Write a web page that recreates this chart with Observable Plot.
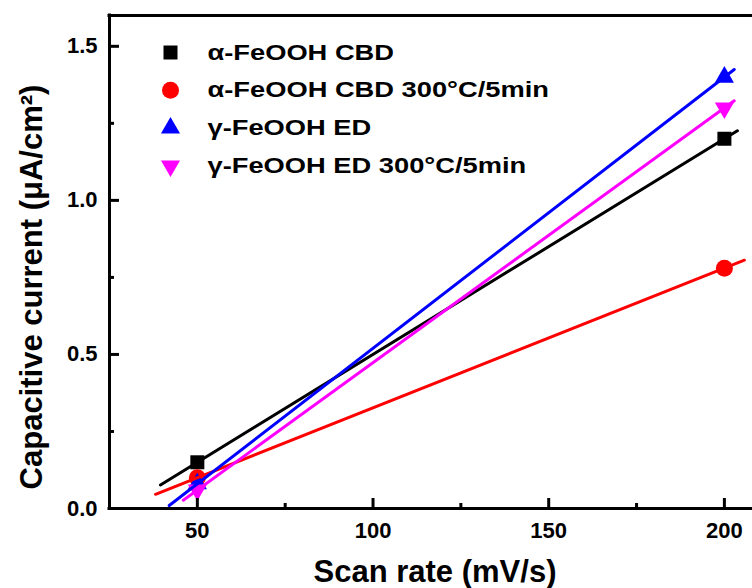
<!DOCTYPE html>
<html><head><meta charset="utf-8">
<script src="https://cdn.jsdelivr.net/npm/d3@7"></script>
<script src="https://cdn.jsdelivr.net/npm/@observablehq/plot@0.6"></script>
<style>
body{margin:0;background:#fff}
svg{display:block}
</style>
</head><body><div id="chart"></div>
<script>
// ---- data ----
const seriesNames = ["α-FeOOH CBD", "α-FeOOH CBD 300°C/5min", "γ-FeOOH ED", "γ-FeOOH ED 300°C/5min"];
const seriesColors = ["#000000", "#ff0000", "#0000ff", "#ff00ff"];
const seriesSymbols = ["square", "circle", "triangle", "triangle"];
const seriesRotate = [0, 0, 0, 180];
const scanRates = [50, 200];
const currentBlack = [0.15, 1.20];
const currentRed = [0.10, 0.78];
const currentBlue = [0.08, 1.40];
const currentMagenta = [0.06, 1.30];
const fitStart = [39.5, 38.1, 42.0, 46.0];
const fitEnd = [203.7, 205.7, 202.8, 202.8];
const xMajorTicks = [50, 100, 150, 200];
const xMinorTicks = [75, 125, 175];
const yMajorTicks = [0.0, 0.5, 1.0, 1.5];
const yMinorTicks = [0.25, 0.75, 1.25];
const xLabel = "Scan rate (mV/s)";
const yLabel = "Capacitive current (μA/cm²)";

// ---- build ----
const W = 752, H = 588, ML = 109, MT = 15, MB = 80, MR = 0;
const frameW = W - ML - MR, frameH = H - MT - MB;
const seriesValues = [currentBlack, currentRed, currentBlue, currentMagenta];
const symbolR = {square: 7.9, circle: 8.5, triangle: 7.1};

const points = [];
const fits = [];
seriesValues.forEach((vals, i) => {
  scanRates.forEach((x, j) => points.push({x, y: vals[j], s: i}));
  // least-squares linear fit
  const n = scanRates.length;
  const mx = d3.mean(scanRates), my = d3.mean(vals);
  let sxy = 0, sxx = 0;
  for (let j = 0; j < n; j++) { sxy += (scanRates[j]-mx)*(vals[j]-my); sxx += (scanRates[j]-mx)**2; }
  const b = sxy / sxx, a = my - b * mx;
  fits.push([{x: fitStart[i], y: a + b*fitStart[i], s: i}, {x: fitEnd[i], y: a + b*fitEnd[i], s: i}]);
});

const font = "'Liberation Sans', Arial, sans-serif";
const marks = [];

// data markers
seriesValues.forEach((_, i) => {
  marks.push(Plot.dot(points.filter(p => p.s === i), {
    x: "x", y: "y", symbol: seriesSymbols[i], r: symbolR[seriesSymbols[i]],
    fill: seriesColors[i], stroke: "none", rotate: seriesRotate[i]
  }));
});
// fit lines
fits.forEach((f, i) => {
  marks.push(Plot.line(f, {x: "x", y: "y", stroke: seriesColors[i], strokeWidth: 3}));
});

// frame lines
marks.push(Plot.ruleX([25], {strokeWidth: 3, strokeLinecap: "square"}));
marks.push(Plot.ruleY([0], {strokeWidth: 3, strokeLinecap: "square"}));
marks.push(Plot.ruleY([1.6], {strokeWidth: 3, strokeLinecap: "square"}));

// inward ticks
marks.push(Plot.tickY(yMajorTicks, {y: d => d, insetRight: frameW - 10, strokeWidth: 3}));
marks.push(Plot.tickY(yMinorTicks, {y: d => d, insetRight: frameW - 5, strokeWidth: 3}));
marks.push(Plot.tickX(xMajorTicks, {x: d => d, insetTop: frameH - 10, strokeWidth: 3}));
marks.push(Plot.tickX(xMinorTicks, {x: d => d, insetTop: frameH - 5, strokeWidth: 3}));

// tick labels
marks.push(Plot.axisX({ticks: xMajorTicks, tickSize: 0, tickPadding: 14, fontSize: 22, fontWeight: "bold", tickFormat: d => String(d), label: null}));
marks.push(Plot.axisY({ticks: yMajorTicks, tickSize: 0, tickPadding: 12, fontSize: 22, fontWeight: "bold", tickFormat: d3.format(".1f"), label: null}));

// axis titles
marks.push(Plot.text([xLabel], {x: null, y: null, text: d => d, frameAnchor: "bottom", textAnchor: "middle", lineAnchor: "middle", dx: 4, dy: 64, fontSize: 31, fontWeight: "bold"}));
marks.push(Plot.text([yLabel], {x: null, y: null, text: d => d, frameAnchor: "left", textAnchor: "middle", lineAnchor: "middle", dx: -77, dy: 25, rotate: -90, fontSize: 31, fontWeight: "bold"}));

// legend
seriesNames.forEach((name, i) => {
  marks.push(Plot.dot([name], {
    x: null, y: null, frameAnchor: "top-left", dx: 61, dy: 37 + i * 37.8,
    symbol: seriesSymbols[i], r: symbolR[seriesSymbols[i]], fill: seriesColors[i], stroke: "none", rotate: seriesRotate[i]
  }));
  marks.push(Plot.text([name], {
    x: null, y: null, text: d => d, frameAnchor: "top-left", dx: 98, dy: 37 + i * 37.8,
    textAnchor: "start", lineAnchor: "middle", fontSize: 22, fontWeight: "bold"
  }));
});

const chart = Plot.plot({
  width: W, height: H,
  marginLeft: ML, marginTop: MT, marginBottom: MB, marginRight: MR,
  style: {fontFamily: font, color: "#000", background: "#fff", overflow: "visible"},
  x: {domain: [25, 208]},
  y: {domain: [0, 1.6]},
  marks
});
document.getElementById("chart").appendChild(chart);
// the original legend lettering is horizontally stretched
d3.select(chart).selectAll("text")
  .filter(function () { return seriesNames.includes(this.textContent); })
  .each(function () {
    const w = this.getComputedTextLength();
    this.setAttribute("textLength", (w * 1.24).toFixed(1));
    this.setAttribute("lengthAdjust", "spacingAndGlyphs");
  });
</script>
</body></html>
